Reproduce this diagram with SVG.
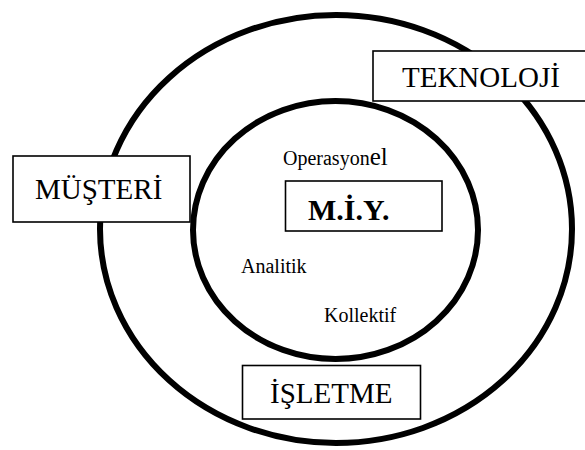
<svg xmlns="http://www.w3.org/2000/svg" width="585" height="450" viewBox="0 0 585 450">
  <style>
    .ring { fill: none; stroke: #000; stroke-width: 6; }
    .box { fill: #fff; stroke: #000; stroke-width: 1.6; }
    text { fill: #000; font-family: Liberation Serif, DejaVu Serif, serif; }
  </style>
  <rect width="585" height="450" fill="#fff"/>

  <!-- concentric rings -->
  <g id="rings">
    <ellipse id="outer-ring" class="ring" cx="336" cy="229" rx="236" ry="214"/>
    <ellipse id="inner-ring" class="ring" cx="335.5" cy="230" rx="142.5" ry="129"/>
  </g>

  <!-- labels inside the inner ring -->
  <g id="operasyonel">
    <text font-size="20" x="283" y="165">Operasyon<tspan font-size="25">el</tspan></text>
  </g>
  <g id="analitik">
    <text font-size="20" x="241" y="273">Analitik</text>
  </g>
  <g id="kollektif">
    <text font-size="20" x="324" y="322">Kollektif</text>
  </g>

  <g id="miy">
    <rect class="box" x="285.5" y="181" width="156.5" height="50"/>
    <text font-size="30" font-weight="bold" x="308" y="220">M.İ.Y.</text>
  </g>

  <g id="teknoloji">
    <rect class="box" x="373" y="51" width="220" height="50"/>
    <text font-size="29" x="402" y="87">TEKNOLOJİ</text>
  </g>

  <g id="musteri">
    <rect class="box" x="13" y="156" width="177" height="66"/>
    <text font-size="29" x="35" y="199">MÜŞTERİ</text>
  </g>

  <g id="isletme">
    <rect class="box" x="242.5" y="365.5" width="178" height="53.5"/>
    <text font-size="29" x="270" y="403">İŞLETME</text>
  </g>

  <g id="connectors"/>
</svg>
